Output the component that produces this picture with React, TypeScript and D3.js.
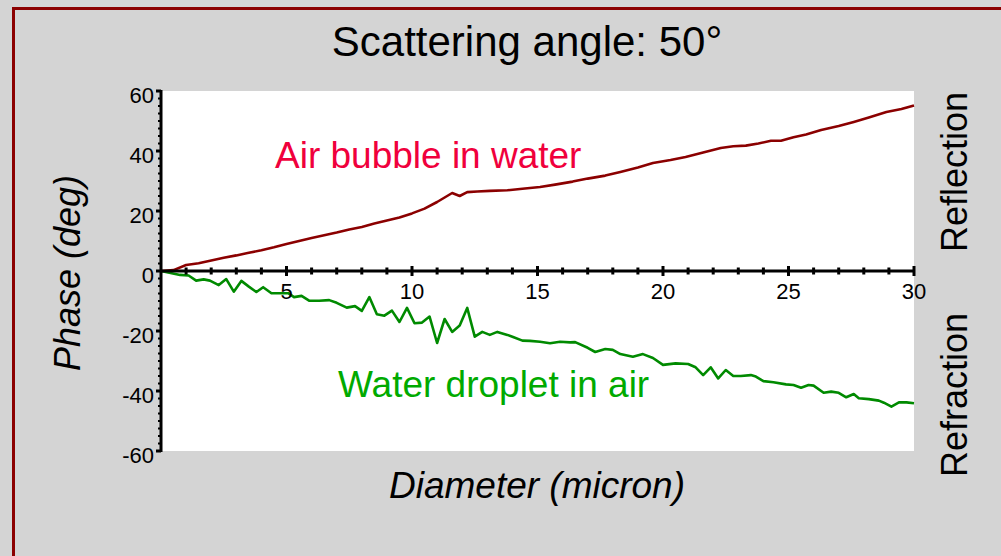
import React from "react";
import * as d3 from "d3";

const reflectionDiameter = [0, 0.5, 1.0, 1.5, 2.0, 2.5, 3.0, 3.5, 4.0, 4.5, 5.0, 5.5, 6.0, 6.5, 7.0, 7.5, 8.0, 8.5, 9.0, 9.5, 10.0, 10.5, 11.0, 11.3, 11.6, 11.9, 12.2, 12.6, 13.1, 13.8, 14.4, 15.1, 15.7, 16.4, 17.0, 17.7, 18.3, 19.0, 19.6, 20.3, 20.9, 21.6, 22.3, 22.8, 23.3, 23.8, 24.3, 24.7, 25.2, 25.7, 26.3, 27.0, 27.6, 28.2, 28.9, 29.5, 30];
const reflectionPhase = [0, 0.3, 2, 2.6, 3.5, 4.4, 5.2, 6.1, 6.9, 7.9, 9, 10, 11, 11.9, 12.8, 13.8, 14.7, 15.8, 16.8, 17.8, 19.2, 20.8, 23, 24.5, 26, 25, 26.3, 26.5, 26.7, 26.9, 27.4, 28, 28.8, 29.8, 30.8, 31.8, 33, 34.5, 36, 37, 38, 39.5, 41, 41.6, 41.8, 42.5, 43.4, 43.4, 44.6, 45.5, 47, 48.3, 49.7, 51.2, 53, 54, 55.2];

const refractionDiameter = [0, 0.76, 1.1, 1.4, 1.7, 1.95, 2.3, 2.6, 2.9, 3.2, 3.5, 3.8, 4.07, 4.4, 4.7, 5.07, 5.3, 5.6, 5.9, 6.3, 6.7, 7.0, 7.4, 7.73, 8.0, 8.3, 8.6, 8.9, 9.2, 9.5, 9.8, 10.1, 10.4, 10.7, 11.0, 11.3, 11.6, 11.9, 12.2, 12.5, 12.8, 13.1, 13.4, 13.8, 14.0, 14.4, 14.7, 15.1, 15.5, 15.9, 16.3, 16.5, 17.0, 17.3, 17.7, 18.0, 18.3, 18.8, 19.2, 19.6, 20.0, 20.5, 21.0, 21.3, 21.6, 21.9, 22.2, 22.5, 22.8, 23.1, 23.5, 23.7, 24.0, 24.4, 24.9, 25.2, 25.5, 25.8, 26.0, 26.4, 26.7, 27.0, 27.3, 27.6, 27.8, 28.2, 28.6, 28.8, 29.1, 29.4, 29.7, 30];
const refractionPhase = [0, -1.3, -1.5, -3.2, -2.8, -3.2, -4.7, -2.7, -6.9, -3.3, -5.2, -7, -5.4, -7.4, -7.4, -7.4, -8.7, -8.3, -9.9, -9.9, -9.7, -10.6, -12.2, -11.7, -13.3, -8.7, -14.4, -14.9, -13.2, -17, -12.3, -17.4, -17.2, -15.2, -24, -16, -20.3, -18.2, -12.3, -21.9, -20.3, -21.3, -20.3, -21.3, -21.9, -23.2, -23.3, -23.6, -24.1, -23.6, -23.8, -23.7, -25.6, -27, -26, -26.3, -27.7, -28.6, -27.7, -29, -31.3, -30.8, -31, -32.1, -34.7, -32.1, -35.8, -33, -35, -35, -34.7, -35.2, -36.7, -37.1, -37.8, -38, -38.9, -38, -38.2, -40.6, -40.2, -40.6, -42.1, -41, -42.4, -42.7, -43.2, -43.9, -45.2, -43.8, -43.8, -44.1];

const xMajorTicks = [5, 10, 15, 20, 25, 30];
const yMajorTicks = [60, 40, 20, 0, -20, -40, -60];

const FONT = "'Liberation Sans', Arial, sans-serif";

export default function App() {
  const x = d3.scaleLinear().domain([0, 30]).range([161, 914]);
  const y = d3.scaleLinear().domain([-60, 60]).range([451, 91]);

  const reflPts: [number, number][] = reflectionDiameter.map((d, i) => [d, reflectionPhase[i]]);
  const refrPts: [number, number][] = refractionDiameter.map((d, i) => [d, refractionPhase[i]]);
  const line = d3
    .line<[number, number]>()
    .x((p) => x(p[0]))
    .y((p) => y(p[1]));

  const xMinor = d3.range(1, 31).filter((v) => v % 5 !== 0);
  const yMinor = d3.range(-60, 60.01, 2.5).filter((v) => v % 20 !== 0);

  return (
    <svg
      width={1001}
      height={556}
      style={{ position: "absolute", left: 0, top: 0, display: "block" }}
      fontFamily={FONT}
    >
      <rect x={0} y={0} width={1001} height={556} fill="#d4d4d4" />
      <path d="M13.5,570 L13.5,8.5 L1010,8.5" fill="none" stroke="#8b0000" strokeWidth={3} />

      {/* plot area */}
      <rect x={x(0)} y={y(60)} width={x(30) - x(0)} height={y(-60) - y(60)} fill="#ffffff" />

      {/* series */}
      <path d={line(reflPts) || ""} fill="none" stroke="#8b0000" strokeWidth={2.6} strokeLinejoin="round" />
      <path d={line(refrPts) || ""} fill="none" stroke="#008a00" strokeWidth={2.6} strokeLinejoin="round" />

      {/* y axis */}
      <line x1={x(0)} x2={x(0)} y1={y(60) - 1} y2={y(-60) + 1} stroke="#000" strokeWidth={3} />
      {yMajorTicks.map((t) => (
        <g key={"ym" + t}>
          <line x1={x(0) - 5} x2={x(0)} y1={y(t)} y2={y(t)} stroke="#000" strokeWidth={3} />
          <text x={154} y={y(t) + 12} textAnchor="end" fontSize={22} fill="#000">
            {t}
          </text>
        </g>
      ))}
      {yMinor.map((t) => (
        <line key={"yn" + t} x1={x(0) - 3} x2={x(0)} y1={y(t)} y2={y(t)} stroke="#000" strokeWidth={2} />
      ))}

      {/* x axis at 0 */}
      <line x1={x(0)} x2={x(30)} y1={y(0)} y2={y(0)} stroke="#000" strokeWidth={3} />
      {xMinor.map((t) => (
        <line key={"xn" + t} x1={x(t)} x2={x(t)} y1={y(0) - 3.5} y2={y(0) + 3.5} stroke="#000" strokeWidth={3} />
      ))}
      {xMajorTicks.map((t) => (
        <g key={"xm" + t}>
          <line x1={x(t)} x2={x(t)} y1={y(0) - 5} y2={y(0) + 5} stroke="#000" strokeWidth={3} />
          <text x={x(t)} y={y(0) + 28} textAnchor="middle" fontSize={22} fill="#000">
            {t}
          </text>
        </g>
      ))}

      {/* labels */}
      <text x={527} y={56} textAnchor="middle" fontSize={42} fill="#000">
        Scattering angle: 50°
      </text>
      <text x={275} y={168} fontSize={37} fill="#f0003c">
        Air bubble in water
      </text>
      <text x={338} y={397} fontSize={37} fill="#00aa00">
        Water droplet in air
      </text>
      <text
        transform={`translate(80,273) rotate(-90)`}
        textAnchor="middle"
        fontSize={36}
        fontStyle="italic"
        fill="#000"
      >
        Phase (deg)
      </text>
      <text x={537} y={498} textAnchor="middle" fontSize={37} fontStyle="italic" fill="#000">
        Diameter (micron)
      </text>
      <text transform={`translate(967,172) rotate(-90)`} textAnchor="middle" fontSize={36} fill="#000">
        Reflection
      </text>
      <text transform={`translate(967,395) rotate(-90)`} textAnchor="middle" fontSize={36} fill="#000">
        Refraction
      </text>
    </svg>
  );
}
